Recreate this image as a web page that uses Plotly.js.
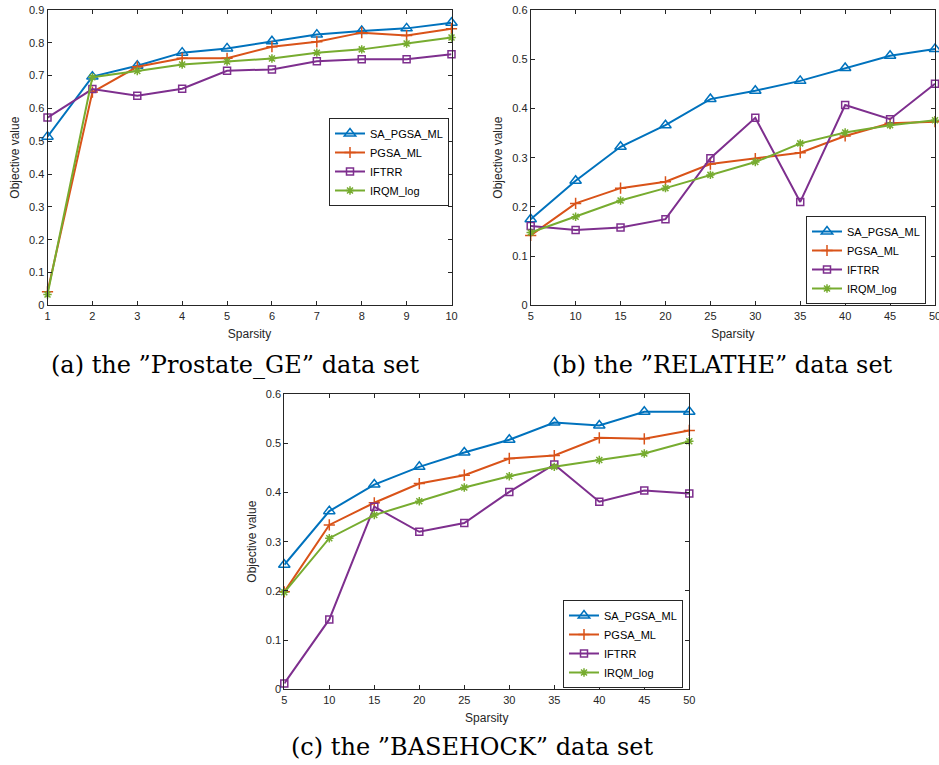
<!DOCTYPE html>
<html>
<head>
<meta charset="utf-8">
<script src="https://cdn.plot.ly/plotly-3.0.1.min.js"></script>
<style>html,body{margin:0;padding:0;background:#fff;}#chart{width:939px;height:765px;}</style>
</head>
<body>
<div id="chart"></div>
<script>
// ---- data ----
const seriesNames = ["SA_PGSA_ML", "PGSA_ML", "IFTRR", "IRQM_log"];

const sparsityA = [1, 2, 3, 4, 5, 6, 7, 8, 9, 10];
const saA    = [0.514, 0.697, 0.730, 0.770, 0.783, 0.805, 0.825, 0.836, 0.844, 0.861];
const pgsaA  = [0.041, 0.650, 0.727, 0.753, 0.753, 0.788, 0.803, 0.831, 0.822, 0.843];
const iftrrA = [0.572, 0.659, 0.639, 0.660, 0.715, 0.719, 0.744, 0.750, 0.750, 0.765];
const irqmA  = [0.033, 0.695, 0.714, 0.734, 0.743, 0.752, 0.770, 0.780, 0.798, 0.816];

const sparsityB = [5, 10, 15, 20, 25, 30, 35, 40, 45, 50];
const saB    = [0.175, 0.253, 0.322, 0.366, 0.419, 0.436, 0.456, 0.482, 0.507, 0.521];
const pgsaB  = [0.142, 0.207, 0.238, 0.251, 0.287, 0.298, 0.310, 0.344, 0.370, 0.373];
const iftrrB = [0.161, 0.153, 0.158, 0.175, 0.299, 0.381, 0.210, 0.407, 0.378, 0.450];
const irqmB  = [0.148, 0.180, 0.213, 0.238, 0.265, 0.291, 0.329, 0.351, 0.366, 0.376];

const sparsityC = [5, 10, 15, 20, 25, 30, 35, 40, 45, 50];
const saC    = [0.253, 0.362, 0.416, 0.452, 0.481, 0.507, 0.542, 0.536, 0.564, 0.564];
const pgsaC  = [0.198, 0.334, 0.379, 0.418, 0.435, 0.469, 0.475, 0.511, 0.509, 0.526];
const iftrrC = [0.012, 0.142, 0.371, 0.320, 0.338, 0.401, 0.457, 0.381, 0.404, 0.398];
const irqmC  = [0.197, 0.307, 0.354, 0.382, 0.410, 0.433, 0.452, 0.466, 0.479, 0.504];

const captions = ["(a) the \u201DProstate_GE\u201D data set",
                  "(b) the \u201DRELATHE\u201D data set",
                  "(c) the \u201DBASEHOCK\u201D data set"];
const xTitle = "Sparsity";
const yTitle = "Objective value";

// ---- styles ----
const colors = ["#0072BD", "#D95319", "#7E2F8E", "#77AC30"];
const symbols = ["triangle-up-open", "cross-thin-open", "square-open", "asterisk-open"];
const msizes = [10, 8, 7, 7];

function makeTraces(x, ys, xa, ya, leg) {
  return ys.map((y, i) => ({
    type: "scatter", mode: "lines+markers",
    x: x, y: y, name: seriesNames[i],
    xaxis: xa, yaxis: ya, legend: leg,
    line: {color: colors[i], width: 2},
    marker: {symbol: symbols[i], size: msizes[i], color: colors[i],
             line: {color: colors[i], width: 1.5}},
    cliponaxis: false
  }));
}

const traces = [].concat(
  makeTraces(sparsityA, [saA, pgsaA, iftrrA, irqmA], "x", "y", "legend"),
  makeTraces(sparsityB, [saB, pgsaB, iftrrB, irqmB], "x2", "y2", "legend2"),
  makeTraces(sparsityC, [saC, pgsaC, iftrrC, irqmC], "x3", "y3", "legend3")
);

const W = 939, H = 765;
const tickFont = {family: "Liberation Sans, Arial, sans-serif", size: 11, color: "#262626"};
function xax(domain, range, anchor, dtick) {
  return {domain: domain, range: range, anchor: anchor, dtick: dtick, tick0: 0,
    showgrid: false, zeroline: false, showline: true, linecolor: "#262626", linewidth: 1,
    mirror: "ticks", ticks: "inside", ticklen: 4, tickcolor: "#262626",
    tickfont: tickFont, fixedrange: true, ticklabeloverflow: "allow",
    title: {text: xTitle, font: {family: tickFont.family, size: 12, color: "#262626"}, standoff: 9}};
}
function yax(domain, range, anchor) {
  return {domain: domain, range: range, anchor: anchor, dtick: 0.1,
    showgrid: false, zeroline: false, showline: true, linecolor: "#262626", linewidth: 1,
    mirror: "ticks", ticks: "inside", ticklen: 4, tickcolor: "#262626",
    tickfont: tickFont, fixedrange: true, ticklabeloverflow: "allow",
    title: {text: yTitle, font: {family: tickFont.family, size: 12, color: "#262626"}, standoff: 6}};
}
function legendAt(px, py) {
  return {x: px / W, y: 1 - py / H, xanchor: "left", yanchor: "top",
    bgcolor: "#ffffff", bordercolor: "#262626", borderwidth: 1,
    font: {family: tickFont.family, size: 11, color: "#000"},
    itemwidth: 30, tracegroupgap: 0};
}

const capFont = {family: "DejaVu Serif, serif", size: 24, color: "#000"};

const layout = {
  width: W, height: H,
  margin: {l: 0, r: 0, t: 0, b: 0},
  paper_bgcolor: "#fff", plot_bgcolor: "#fff",
  showlegend: true,
  xaxis:  xax([47.5 / W, 451.5 / W], [1, 10], "y", 1),
  yaxis:  yax([1 - 305.3 / H, 1 - 10 / H], [0, 0.9], "x"),
  xaxis2: xax([530.7 / W, 935 / W], [5, 50], "y2", 5),
  yaxis2: yax([1 - 305.3 / H, 1 - 10 / H], [0, 0.6], "x2"),
  xaxis3: xax([284.3 / W, 689.3 / W], [5, 50], "y3", 5),
  yaxis3: yax([1 - 689.3 / H, 1 - 394 / H], [0, 0.6], "x3"),
  legend:  legendAt(329, 118),
  legend2: legendAt(806, 216),
  legend3: legendAt(563, 600),
  annotations: [
    {text: captions[0], x: 235 / W, y: 1 - 365 / H, xref: "paper", yref: "paper", showarrow: false, font: capFont, xanchor: "center", yanchor: "middle"},
    {text: captions[1], x: 722 / W, y: 1 - 365 / H, xref: "paper", yref: "paper", showarrow: false, font: capFont, xanchor: "center", yanchor: "middle"},
    {text: captions[2], x: 473 / W, y: 1 - 747 / H, xref: "paper", yref: "paper", showarrow: false, font: capFont, xanchor: "center", yanchor: "middle"}
  ]
};

Plotly.newPlot("chart", traces, layout, {displayModeBar: false, staticPlot: true});
</script>
</body>
</html>
